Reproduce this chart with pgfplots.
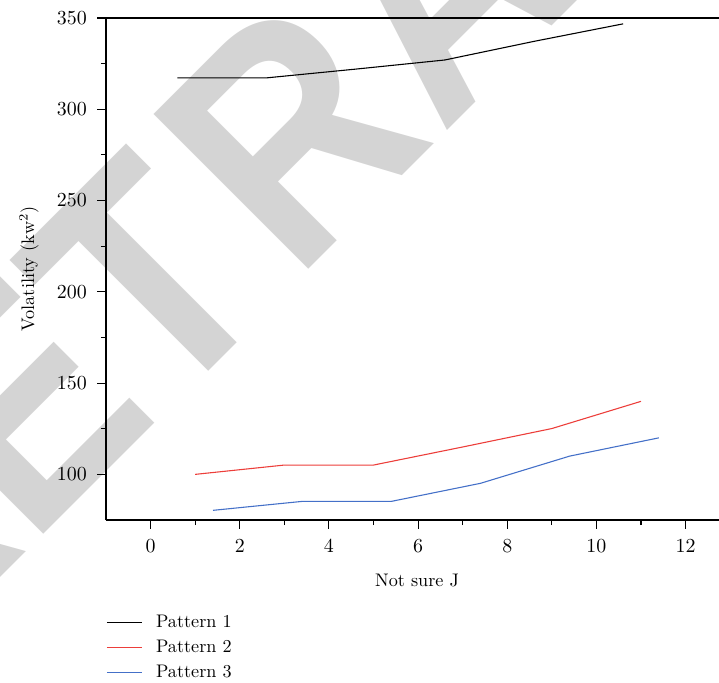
\documentclass[border=0pt]{standalone}
\usepackage{fontspec}
\usepackage{pgfplots}
\pgfplotsset{compat=1.18}
\newfontfamily\wmfont{Liberation Sans}

\definecolor{wmgray}{RGB}{212,212,212}
\definecolor{pred}{RGB}{236,62,58}
\definecolor{pblue}{RGB}{68,112,200}

\begin{document}
\begin{tikzpicture}
% watermark behind the chart, letter by letter
\tikzset{wm/.style={anchor=base west, rotate=45, xscale=0.88, text=wmgray, inner sep=0pt,
      font=\wmfont\bfseries\fontsize{175}{175}\selectfont}}
\node[wm] at (-120.12pt,-93.72pt) {R};
\node[wm] at (-41.47pt,-15.07pt) {E};
\node[wm] at (30.86pt,56.16pt) {T};
\node[wm] at (104.28pt,130.68pt) {R};
\node[wm] at (184.8pt,211.2pt) {A};
\node[wm] at (263.5pt,289.9pt) {CTED};

\begin{axis}[
    name=ax,
    scale only axis,
    width=337.15pt,
    height=276.1pt,
    xmin=-1, xmax=12.75,
    ymin=75, ymax=350,
    axis x line*=bottom,
    axis y line*=left,
    axis line style={line width=0.7pt},
    tick align=outside,
    xtick={0,2,...,12},
    ytick={100,150,...,350},
    minor x tick num=1,
    minor y tick num=1,
    major tick length=4.8pt,
    minor tick length=2.8pt,
    every tick/.style={black, line width=0.6pt},
    tick label style={font=\fontsize{10.8}{12}\selectfont},
    xticklabel style={yshift=-2.6pt},
    yticklabel style={xshift=-2.2pt},
    xlabel={Not sure J},
    ylabel={Volatility (kw$^2$)},
    xlabel style={at={(axis description cs:0.5,0)}, anchor=center, yshift=-33.3pt, xshift=2.5pt},
    ylabel style={at={(axis description cs:0,0.5)}, anchor=center, yshift=42.3pt},
    legend cell align=left,
    legend style={at={(axis description cs:0,0)}, anchor=north west,
                  draw=none, fill=none, inner sep=0pt,
                  font=\fontsize{10}{12}\selectfont,
                  yshift=-50pt, xshift=0pt, row sep=1.5pt, column sep=5.5pt},
    legend image code/.code={\draw[#1] (0pt,0pt) -- (19.25pt,0pt);},
]

\addplot[black, line width=0.6pt] coordinates {
    (0.6,317.2) (2.6,317.2) (4.6,322) (6.6,327) (8.6,337.2) (10.6,346.8)
};
\addlegendentry{Pattern 1}

\addplot[pred, line width=0.6pt] coordinates {
    (1.0,100) (3.0,105.1) (5.0,105.1) (7.0,115) (9.0,125.1) (11.0,140)
};
\addlegendentry{Pattern 2}

\addplot[pblue, line width=0.6pt] coordinates {
    (1.4,80.3) (3.4,85.2) (5.4,85.2) (7.4,95.1) (9.4,110) (11.4,120)
};
\addlegendentry{Pattern 3}

\end{axis}

\draw[line width=0.7pt] ([xshift=-4.9pt]ax.north west) -- (ax.north east);

\pgfresetboundingbox
\useasboundingbox ([xshift=-58.3pt, yshift=-89.1pt]ax.south west) rectangle ([yshift=9.9pt]ax.north east);
\end{tikzpicture}
\end{document}
